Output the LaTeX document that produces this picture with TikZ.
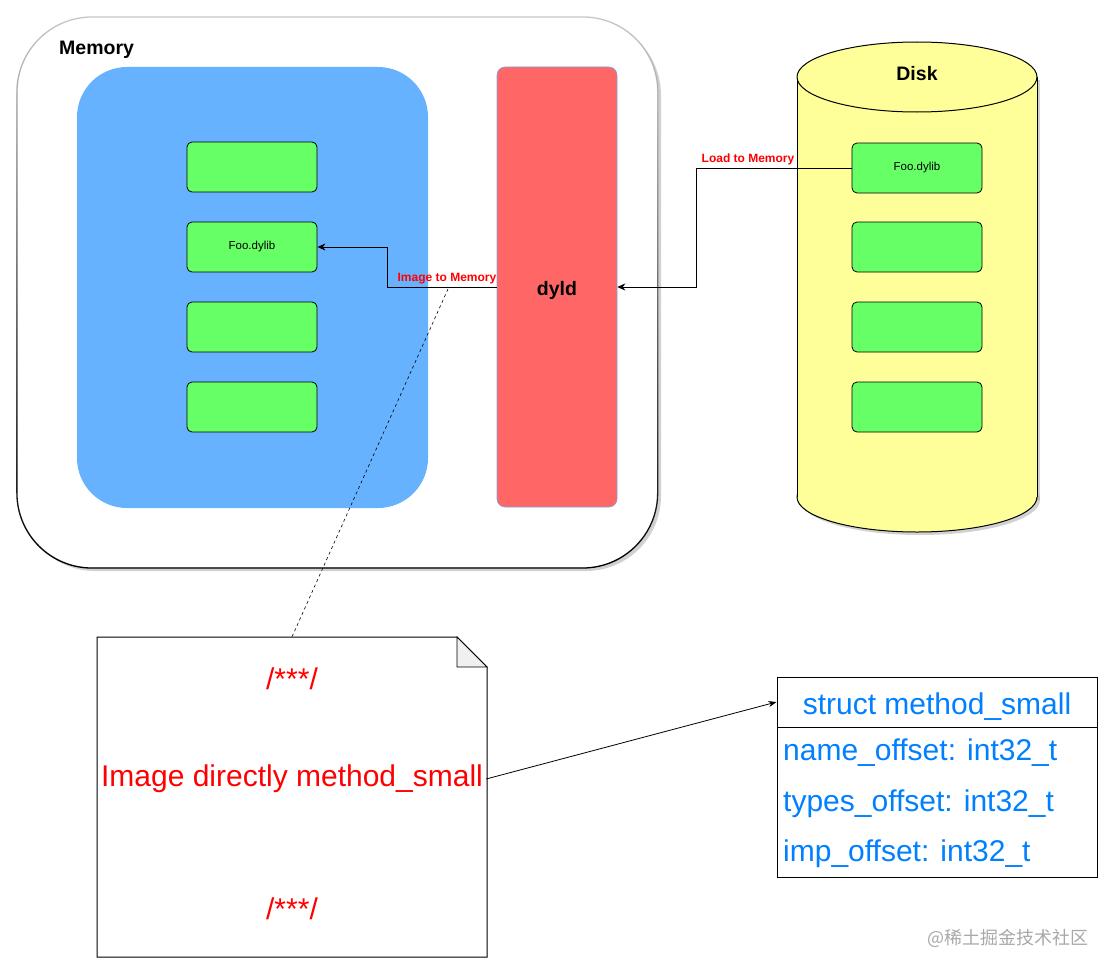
\documentclass[tikz,border=0pt]{standalone}
\usepackage{fontspec}
\setmainfont{Liberation Sans}
\newfontfamily\cjkfont{Noto Sans CJK SC}
\usetikzlibrary{arrows.meta,fadings}
\definecolor{memblue}{HTML}{66B2FF}
\definecolor{dyldred}{HTML}{FF6666}
\definecolor{libgreen}{HTML}{66FF66}
\definecolor{diskyellow}{HTML}{FFFF99}
\definecolor{structblue}{HTML}{007FFF}
\definecolor{dyldborder}{HTML}{7EA6E0}
\definecolor{foldgray}{HTML}{F0F0F0}
\definecolor{wmgray}{HTML}{A8A8A8}
\begin{document}
\begin{tikzpicture}[x=1pt,y=-1pt,
  lib/.style={draw=black, fill=libgreen, rounded corners=5pt, minimum width=130pt,
    minimum height=50pt, inner sep=0pt, line width=0.8pt, font=\fontsize{11.5}{13}\selectfont},
  title/.style={font=\bfseries\fontsize{19.5}{23}\selectfont, inner sep=0pt},
  lbl/.style={text=red, font=\bfseries\fontsize{12}{14}\selectfont, inner sep=0pt},
  conn/.style={draw=black, line width=0.9pt, -{Stealth[length=8pt,width=7pt,inset=2.5pt]}},
  notetext/.style={text=red, font=\fontsize{30}{34}\selectfont, inner sep=0pt},
  field/.style={text=structblue, font=\fontsize{30}{34}\selectfont, inner sep=0pt, anchor=west},
  shadowfill/.style={fill=black!40, opacity=0.45}]
\useasboundingbox (0,0) rectangle (1114,974);

% ---------- Memory container ----------
\fill[shadowfill, rounded corners=75pt] (20,20) rectangle (661,571);
\fill[white, rounded corners=75pt] (17,17) rectangle (658,568);
\draw[black!22, line width=1.3pt, rounded corners=75pt] (17,17) rectangle (658,568);
\draw[black, line width=1.3pt, rounded corners=75pt, path fading=north] (17,17) rectangle (658,568);
\node[title, anchor=west] (memlbl) at (59,50) {Memory};

\node[fill=memblue, rounded corners=50pt, minimum width=351pt, minimum height=441pt, inner sep=0pt] (appzone) at (252.5,287.5) {};

\node[fill=dyldred, draw=dyldborder, line width=0.6pt, rounded corners=8pt, minimum width=120pt,
  minimum height=440pt, inner sep=0pt, font=\bfseries\fontsize{19.5}{23}\selectfont] (dyld) at (557,287) {};
\node[title] (dyldlbl) at (557,290) {dyld};

\node[lib] (m1) at (252,167) {};
\node[lib] (mfoo) at (252,247) {Foo.dylib};
\node[lib] (m3) at (252,327) {};
\node[lib] (m4) at (252,407) {};

% ---------- Disk ----------
\begin{scope}[shift={(3,3)}]
  \fill[shadowfill] (917,497) ellipse[x radius=120, y radius=35];
  \fill[shadowfill] (797,77) rectangle (1037,497);
\end{scope}
\draw[fill=diskyellow, line width=1pt] (917,497) ellipse[x radius=120, y radius=35];
\fill[diskyellow] (797,77) rectangle (1037,497);
\draw[line width=1pt] (797,77) -- (797,497);
\draw[line width=1pt] (1037,77) -- (1037,497);
\draw[fill=diskyellow, line width=1pt] (917,77) ellipse[x radius=120, y radius=35];
\node[title] (disklbl) at (917,74) {Disk};

\node[lib] (dfoo) at (917,168) {Foo.dylib};
\node[lib] (d2) at (917,247) {};
\node[lib] (d3) at (917,327) {};
\node[lib] (d4) at (917,407) {};

% ---------- connectors ----------
\draw[conn] (dfoo.west) -- ++(-155,0) |- (dyld.east);
\node[lbl] (loadlbl) at (748,159) {Load to Memory};
\draw[conn] (dyld.west) -- ++(-109,0) |- (mfoo.east);
\node[lbl] (imglbl) at (447,279) {Image to Memory};

% ---------- Note ----------
\node[minimum width=390pt, minimum height=320pt, inner sep=0pt] (note) at (292,797) {};
\draw[fill=white, line width=1pt] (97,637) -- (457,637) -- (487,667) -- (487,957) -- (97,957) -- cycle;
\draw[fill=foldgray, line width=0.8pt] (457,637) -- (457,667) -- (487,667) -- cycle;
\node[notetext] (c1) at (292,679) {/***/};
\node[notetext] (c2) at (292,779) {Image directly method\_small};
\node[notetext] (c3) at (292,909) {/***/};

\coordinate (dashstart) at (448,289);
\draw[dashed, line width=0.6pt, dash pattern=on 3pt off 3pt] (dashstart) -- (note.north);

% ---------- Struct ----------
\node[draw, line width=1pt, minimum width=320pt, minimum height=150pt, inner sep=0pt] (stbody) at (937,802) {};
\node[draw, line width=1pt, minimum width=320pt, minimum height=50pt, inner sep=0pt] (sthead) at (937,702) {};
\node[field, anchor=center] (sttitle) at (937,707) {struct method\_small};
\node[field] (f1) at (783,753) {name\_offset: int32\_t};
\node[field] (f2) at (783,804) {types\_offset: int32\_t};
\node[field] (f3) at (783,854) {imp\_offset: int32\_t};

\draw[line width=0.8pt, -{Stealth[length=8pt,width=6pt,inset=2.5pt]}] ([xshift=3pt]c2.east) -- (sthead.west);

% ---------- watermark ----------
\node[text=wmgray, font=\cjkfont\fontsize{18}{20}\selectfont, inner sep=0pt] (wm) at (1008,938) {@稀土掘金技术社区};
\end{tikzpicture}
\end{document}
